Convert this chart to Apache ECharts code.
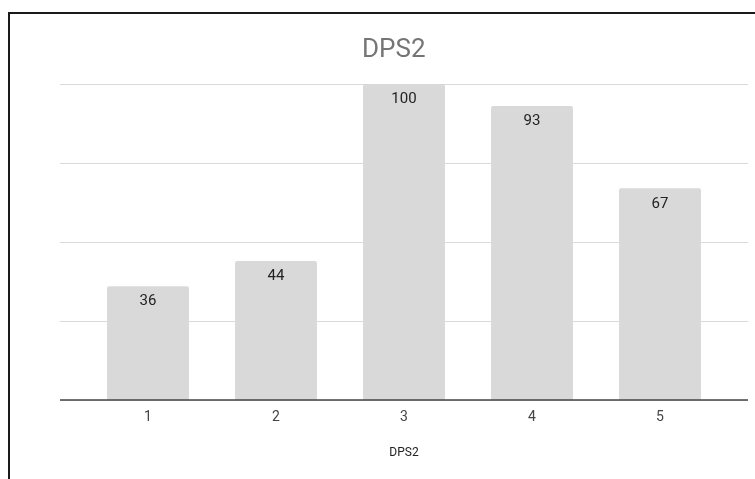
<!DOCTYPE html>
<html>
<head>
<meta charset="utf-8">
<script src="https://cdn.jsdelivr.net/npm/echarts@6/dist/echarts.min.js"></script>
<style>
  html, body { margin: 0; padding: 0; background: #fff; }
  #wrap { position: relative; width: 755px; height: 479px; overflow: hidden; }
  #chart { position: absolute; left: 0; top: 0; width: 755px; height: 479px; }
  #frame { position: absolute; left: 8px; top: 12px; width: 800px; height: 500px;
           border-top: 2px solid #1a1a1a; border-left: 2px solid #1a1a1a; pointer-events: none; }
</style>
</head>
<body>
<div id="wrap">
  <div id="chart"></div>
  <div id="frame"></div>
</div>
<script>
// DPS2 values by run number
const categories = ['1', '2', '3', '4', '5'];
const dps2Values = [36, 44, 100, 93, 67];
const chartTitle = 'DPS2';
const axisTitle = 'DPS2';

const chart = echarts.init(document.getElementById('chart'), null, { renderer: 'canvas' });

const yScale = { min: 0, max: 100, interval: 25 };

chart.setOption({
  animation: false,
  backgroundColor: '#ffffff',
  title: {
    text: chartTitle,
    left: 357,
    top: 32,
    textStyle: { fontFamily: 'Roboto', fontSize: 26, fontWeight: 'normal', color: '#757575' }
  },
  grid: [
    // wide grid carrying the horizontal gridlines
    { left: 60, right: 7, top: 84, bottom: 79 },
    // inner grid holding the bars
    { left: 84, right: 31, top: 84, bottom: 79 }
  ],
  xAxis: [
    { type: 'category', gridIndex: 0, data: categories, show: false },
    {
      type: 'category', gridIndex: 1, data: categories,
      axisLine: { show: false },
      axisTick: { show: false },
      axisLabel: { color: '#444', fontFamily: 'Roboto', fontSize: 14, margin: 10 },
      name: axisTitle,
      nameLocation: 'middle',
      nameGap: 47,
      nameTextStyle: { color: '#222', fontFamily: 'Roboto', fontSize: 12 }
    }
  ],
  yAxis: [
    {
      type: 'value', gridIndex: 0, min: yScale.min, max: yScale.max, interval: yScale.interval,
      axisLine: { show: false }, axisTick: { show: false }, axisLabel: { show: false },
      splitLine: { lineStyle: { color: '#d9d9d9', width: 1 } }
    },
    {
      type: 'value', gridIndex: 1, min: yScale.min, max: yScale.max, interval: yScale.interval,
      show: false, splitLine: { show: false }
    }
  ],
  series: [
    {
      type: 'bar',
      xAxisIndex: 1,
      yAxisIndex: 1,
      data: dps2Values,
      barCategoryGap: '36%',
      itemStyle: { color: '#d9d9d9', borderRadius: [2, 2, 0, 0] },
      label: {
        show: true,
        position: 'insideTop',
        distance: 8,
        color: '#222',
        fontFamily: 'Roboto',
        fontSize: 15
      },
      z: 2
    },
    {
      // baseline across the wide grid
      type: 'line',
      xAxisIndex: 0,
      yAxisIndex: 0,
      data: [],
      markLine: {
        silent: true,
        symbol: 'none',
        label: { show: false },
        lineStyle: { color: '#444', width: 1.5, type: 'solid' },
        data: [{ yAxis: 0 }]
      },
      z: 5
    }
  ]
});
</script>
</body>
</html>
